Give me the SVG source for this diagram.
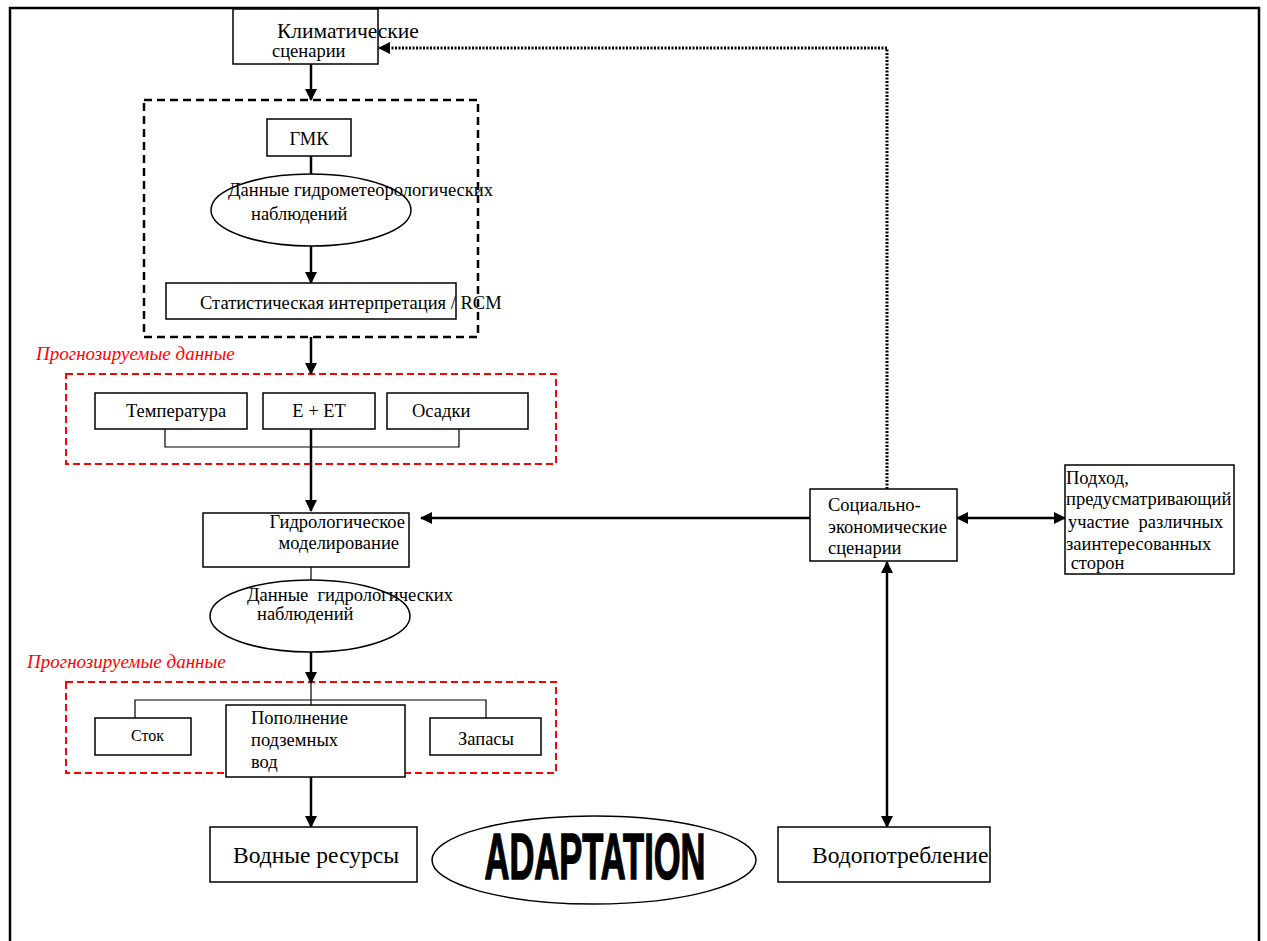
<svg xmlns="http://www.w3.org/2000/svg" width="1267" height="941" viewBox="0 0 1267 941">
<style>
.box{fill:#fff;stroke:#000;stroke-width:1.5}
.t{font-family:"Liberation Serif","Times New Roman",serif;font-size:18.5px;fill:#000;white-space:pre}
.red{font-family:"Liberation Serif","Times New Roman",serif;font-size:19px;font-style:italic;fill:#ff0000}
.ln{stroke:#000;stroke-width:2.5;fill:none}
.thin{stroke:#000;stroke-width:1.2;fill:none}
.dash{stroke:#000;stroke-width:2.5;fill:none;stroke-dasharray:8,5}
.rdash{stroke:#ff0000;stroke-width:2;fill:none;stroke-dasharray:7,4}
.dot{stroke:#000;stroke-width:3;fill:none;stroke-dasharray:2,1.5}
</style>
<defs>
<marker id="ah" markerWidth="12" markerHeight="12" refX="11" refY="6" orient="auto" markerUnits="userSpaceOnUse">
<path d="M0,0 L12,6 L0,12 Z" fill="#000"/>
</marker>
<marker id="as" markerWidth="12" markerHeight="12" refX="1" refY="6" orient="auto" markerUnits="userSpaceOnUse">
<path d="M12,0 L0,6 L12,12 Z" fill="#000"/>
</marker>
</defs>
<rect x="0" y="0" width="1267" height="941" fill="#fff"/>
<rect x="10" y="8" width="1249" height="960" fill="none" stroke="#000" stroke-width="2.5"/>

<g id="groups">
<rect x="144" y="100" width="334" height="237" class="dash"/>
<rect x="66" y="374" width="490" height="90" class="rdash"/>
<rect x="66" y="682" width="490" height="91" class="rdash"/>
<text class="red" x="36" y="360">Прогнозируемые данные</text>
<text class="red" x="27" y="668">Прогнозируемые данные</text>
</g>

<g id="connectors">
<line x1="311" y1="64" x2="311" y2="100" class="ln" marker-end="url(#ah)"/>
<line x1="311" y1="156" x2="311" y2="174" class="ln"/>
<line x1="311" y1="246" x2="311" y2="283" class="ln" marker-end="url(#ah)"/>
<line x1="311" y1="337" x2="311" y2="374" class="ln" marker-end="url(#ah)"/>
<polyline points="165,428 165,447 459,447 459,428" class="thin"/>
<line x1="311" y1="428" x2="311" y2="511" class="ln" marker-end="url(#ah)"/>
<line x1="810" y1="518" x2="421" y2="518" class="ln" marker-end="url(#ah)"/>
<line x1="311" y1="567" x2="311" y2="580" class="thin"/>
<line x1="311" y1="652" x2="311" y2="683" class="ln" marker-end="url(#ah)"/>
<polyline points="135,718 135,700 486,700 486,718" class="thin"/>
<line x1="311" y1="683" x2="311" y2="717" class="thin"/>
<line x1="311" y1="773" x2="311" y2="827" class="ln" marker-end="url(#ah)"/>
<line x1="887" y1="562" x2="887" y2="827" class="ln" marker-start="url(#as)" marker-end="url(#ah)"/>
<line x1="957" y1="518" x2="1065" y2="518" class="ln" marker-start="url(#as)" marker-end="url(#ah)"/>
<polyline points="887,489 887,48 379,48" class="dot" marker-end="url(#ah)"/>
</g>

<g id="climate">
<rect x="233" y="9" width="145" height="55" class="box"/>
<text class="t" x="277" y="38" style="font-size:21.5px">Климатические</text>
<text class="t" x="272" y="57">сценарии</text>
</g>
<g id="gmk">
<rect x="267" y="119" width="84" height="37" class="box"/>
<text class="t" x="309" y="145" text-anchor="middle">ГМК</text>
</g>
<g id="hydrometdata">
<ellipse cx="311" cy="210" rx="100" ry="36" class="box"/>
<text class="t" x="228" y="196">Данные гидрометеорологических</text>
<text class="t" x="251" y="220">наблюдений</text>
</g>
<g id="stat">
<rect x="166" y="283" width="290" height="36" class="box"/>
<text class="t" x="200" y="309">Статистическая интерпретация / RCM</text>
</g>
<g id="temp">
<rect x="95" y="393" width="152" height="36" class="box"/>
<text class="t" x="126" y="417">Температура</text>
</g>
<g id="eet">
<rect x="263" y="393" width="112" height="36" class="box"/>
<text class="t" x="319" y="417" text-anchor="middle">E + ET</text>
</g>
<g id="precip">
<rect x="387" y="393" width="141" height="36" class="box"/>
<text class="t" x="412" y="417">Осадки</text>
</g>
<g id="hydromodel">
<rect x="203" y="513" width="206" height="54" class="box"/>
<text class="t" x="405" y="528" text-anchor="end">Гидрологическое</text>
<text class="t" x="399" y="549" text-anchor="end">моделирование</text>
</g>
<g id="hydrodata">
<ellipse cx="310" cy="616" rx="100" ry="36" class="box"/>
<text class="t" x="247" y="601">Данные  гидрологических</text>
<text class="t" x="257" y="620">наблюдений</text>
</g>
<g id="runoff">
<rect x="95" y="718" width="96" height="37" class="box"/>
<text class="t" x="131" y="741" style="font-size:16px">Сток</text>
</g>
<g id="recharge">
<rect x="226" y="705" width="179" height="72" class="box"/>
<text class="t" x="251" y="724">Пополнение</text>
<text class="t" x="251" y="746">подземных</text>
<text class="t" x="251" y="768">вод</text>
</g>
<g id="storage">
<rect x="430" y="718" width="111" height="37" class="box"/>
<text class="t" x="458" y="745">Запасы</text>
</g>
<g id="water">
<rect x="210" y="827" width="207" height="55" class="box"/>
<text class="t" x="233" y="863" style="font-size:23.5px">Водные ресурсы</text>
</g>
<g id="adaptation">
<ellipse cx="594" cy="860" rx="162" ry="44" class="box"/>
<text x="595" y="879" text-anchor="middle" font-family="'Liberation Sans',Arial,sans-serif" font-weight="bold" font-size="64" textLength="221" lengthAdjust="spacingAndGlyphs" stroke="#000" stroke-width="1.5">ADAPTATION</text>
</g>
<g id="wateruse">
<rect x="778" y="827" width="212" height="55" class="box"/>
<text class="t" x="812" y="863" style="font-size:23.5px">Водопотребление</text>
</g>
<g id="socio">
<rect x="810" y="489" width="147" height="72" class="box"/>
<text class="t" x="828" y="511">Социально-</text>
<text class="t" x="828" y="533">экономические</text>
<text class="t" x="828" y="554">сценарии</text>
</g>
<g id="stakeholder">
<rect x="1065" y="465" width="169" height="109" class="box"/>
<text class="t" x="1066" y="484">Подход,</text>
<text class="t" x="1066" y="505">предусматривающий</text>
<text class="t" x="1068" y="528">участие  различных</text>
<text class="t" x="1066" y="550">заинтересованных</text>
<text class="t" x="1066" y="569"> сторон</text>
</g>
</svg>
